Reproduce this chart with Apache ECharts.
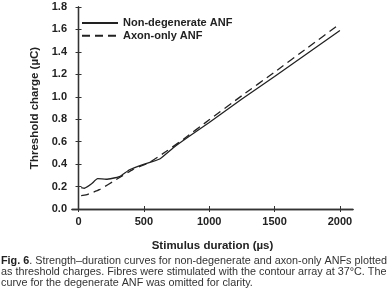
<!DOCTYPE html>
<html><head><meta charset="utf-8">
<script src="https://cdn.jsdelivr.net/npm/echarts@6/dist/echarts.min.js"></script>
<style>html,body{margin:0;padding:0;background:#fff}#c{width:387px;height:306px}</style>
</head><body><div id="c"></div>
<script>
var xTicks = [0, 500, 1000, 1500, 2000];
var yTicks = [0, 0.2, 0.4, 0.6, 0.8, 1.0, 1.2, 1.4, 1.6, 1.8];
var seriesNames = ['Non-degenerate ANF', 'Axon-only ANF'];
var nonDegX = [20, 45, 100, 146, 211, 313, 390, 492, 621, 723, 850, 1000, 1250, 1500, 1750, 2000];
var nonDegY = [0.19, 0.185, 0.225, 0.27, 0.265, 0.288, 0.35, 0.396, 0.446, 0.544, 0.65, 0.77, 0.98, 1.18, 1.385, 1.59];
var axonX = [20, 57, 159, 288, 415, 544, 672, 800, 1000, 1250, 1500, 1750, 2000];
var axonY = [0.12, 0.125, 0.172, 0.262, 0.351, 0.416, 0.514, 0.62, 0.795, 1.01, 1.22, 1.435, 1.65];
var captionLines = [
  ['Fig. 6', '. Strength\u2013duration curves for non-degenerate and axon-only ANFs plotted'],
  ['', 'as threshold charges. Fibres were stimulated with the contour array at 37\u00b0C. The'],
  ['', 'curve for the degenerate ANF was omitted for clarity.']
];
function pairs(xs, ys){ return xs.map(function(x,i){return [x, ys[i]];}); }
var chart = echarts.init(document.getElementById('c'), null, {renderer:'canvas'});
var axisCol = '#333';
var fontF = 'Arial, "Liberation Sans", sans-serif';
var graphics = captionLines.map(function(l, i){
  return {type:'text', left:1, top:255.5 + i*11.2, style:{
    text: (l[0] ? '{b|' + l[0] + '}' : '') + '{n|' + l[1] + '}',
    rich:{b:{fontWeight:'bold', fontSize:10.8, fontFamily:fontF, fill:'#222'}, n:{fontSize:10.8, fontFamily:fontF, fill:'#333'}}
  }};
});
chart.setOption({
  animation:false,
  grid:{left:72, right:34, top:7, bottom:97, show:false},
  legend:{data:seriesNames, orient:'vertical', left:81, top:17.5, padding:0, itemWidth:36, itemHeight:10, itemGap:1.8,
    itemStyle:{opacity:0},
    textStyle:{fontFamily:fontF, fontWeight:'bold', fontSize:11, color:'#222'}},
  xAxis:[{type:'value', min:-50, max:2100, position:'bottom',
    name:'Stimulus duration (\u00b5s)', nameLocation:'middle', nameGap:31,
    nameTextStyle:{fontFamily:fontF, fontWeight:'bold', fontSize:11.5, color:'#222'},
    axisLine:{lineStyle:{color:axisCol, width:1.3}},
    axisTick:{inside:true, length:3, customValues:xTicks, lineStyle:{color:axisCol}},
    axisLabel:{customValues:xTicks, margin:7, fontFamily:fontF, fontWeight:'bold', fontSize:11, color:'#222',
      formatter:function(v){return String(v);}},
    splitLine:{show:false}},
   {type:'value', min:-50, max:2100, position:'top',
    axisLine:{lineStyle:{color:axisCol, width:1.3}},
    axisTick:{inside:true, length:3, customValues:xTicks, lineStyle:{color:axisCol}},
    axisLabel:{show:false}, splitLine:{show:false}}],
  yAxis:[{type:'value', min:0, max:1.8, interval:0.2, position:'left',
    name:'Threshold charge (\u00b5C)', nameLocation:'middle', nameGap:28, nameRotate:90,
    nameTextStyle:{fontFamily:fontF, fontWeight:'bold', fontSize:11.5, color:'#222'},
    axisLine:{show:true, lineStyle:{color:axisCol, width:1.3}},
    axisTick:{show:true, inside:true, length:3, lineStyle:{color:axisCol}},
    axisLabel:{margin:5, fontFamily:fontF, fontWeight:'bold', fontSize:11, color:'#222',
      formatter:function(v){return v.toFixed(1);}},
    splitLine:{show:false}},
   {type:'value', min:0, max:1.8, interval:0.2, position:'right',
    axisLine:{show:true, lineStyle:{color:axisCol, width:1.3}},
    axisTick:{show:true, inside:true, length:3, lineStyle:{color:axisCol}},
    axisLabel:{show:false}, splitLine:{show:false}}],
  series:[
    {name:seriesNames[0], type:'line', data:pairs(nonDegX, nonDegY), symbol:'none', smooth:0.15,
     lineStyle:{color:'#222', width:1.3, type:'solid'}, itemStyle:{color:'#222'}},
    {name:seriesNames[1], type:'line', data:pairs(axonX, axonY), symbol:'none', smooth:0.15,
     lineStyle:{color:'#222', width:1.3, type:[8,5]}, itemStyle:{color:'#222'}}
  ],
  graphic:graphics
});
</script></body></html>
